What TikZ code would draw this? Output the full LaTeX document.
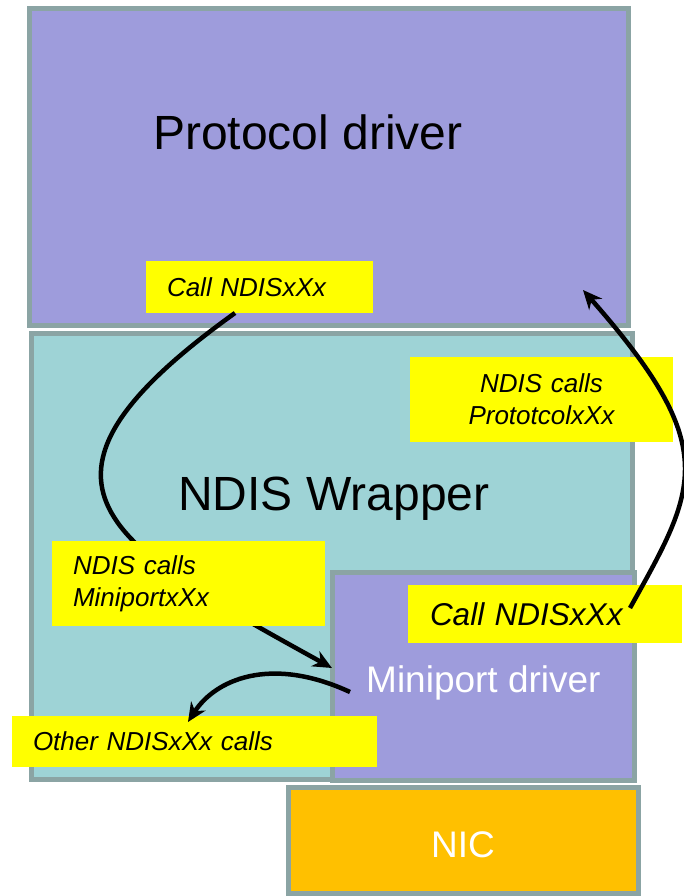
\documentclass[tikz,border=0pt]{standalone}
\usepackage{fontspec}
\setmainfont{Liberation Sans}
\usetikzlibrary{arrows.meta}
\definecolor{bordergray}{RGB}{139,164,164}
\definecolor{lav}{RGB}{158,156,220}
\definecolor{tealbox}{RGB}{158,211,214}
\definecolor{nicorange}{RGB}{255,192,0}
\definecolor{ylw}{RGB}{255,255,0}
\tikzset{
  layerbox/.style={draw=bordergray, line width=5pt, inner sep=0pt, outer sep=0pt},
  ybox/.style={fill=ylw, inner ysep=0pt, outer sep=0pt, font=\fontsize{26}{32}\selectfont\itshape},
  bigtext/.style={anchor=base west, inner sep=0pt, font=\fontsize{48}{56}\selectfont},
  whitetext/.style={inner sep=0pt, text=white, font=\fontsize{37}{44}\selectfont},
  callarrow/.style={line width=4.5pt, -{Stealth[length=19pt,width=17pt,inset=6pt]}}
}
\begin{document}
\begin{tikzpicture}[x=1pt,y=-1pt]
\useasboundingbox[fill=white] (0,0) rectangle (684,896);
% layers
\node[layerbox, fill=lav, minimum width=599pt, minimum height=317pt] (pd) at (329,167) {};
\node[layerbox, fill=tealbox, minimum width=601pt, minimum height=446pt] (wr) at (332,556.5) {};
\node[layerbox, fill=lav, minimum width=302.5pt, minimum height=208pt] (mini) at (483.25,676.5) {};
\node[layerbox, fill=nicorange, minimum width=350pt, minimum height=106pt] (nic) at (463.5,840.5) {};
% layer titles
\node[bigtext] (pdtext) at (153,150) {Protocol driver};
\node[bigtext] (wrtext) at (178,510) {NDIS Wrapper};
\node[whitetext, anchor=base west] (minitext) at (366,692) {Miniport driver};
\node[whitetext, anchor=base] (nictext) at (463,857) {NIC};
% yellow labels
\node[ybox, inner xsep=21pt, text width=185pt, align=left, minimum height=52pt] (call1) at (259.5,287) {Call NDISxXx};
\node[ybox, inner xsep=10pt, text width=243pt, align=center, minimum height=85pt] (proto) at (541.5,399.5) {NDIS calls\\PrototcolxXx};
% arrow 1
\draw[callarrow] ([xshift=-24.5pt]call1.south) .. controls (-5,485) and (110,545) .. ([yshift=8.5pt]mini.west);
\node[ybox, inner xsep=21pt, text width=231pt, align=left, minimum height=85pt] (minical) at (188.5,583.5) {NDIS calls\\MiniportxXx};
\node[ybox, inner xsep=21pt, text width=323pt, align=left, minimum height=51pt] (other) at (194.5,741.5) {Other NDISxXx calls};
\node[ybox, inner xsep=22pt, text width=230pt, align=left, minimum height=58pt, font=\fontsize{31.5}{38}\selectfont\itshape] (call2) at (545,614) {Call NDISxXx};
% arrow 2
\draw[callarrow] ([xshift=-16pt]minitext.base west) .. controls (270,655) and (215,680) .. ([xshift=-6.5pt,yshift=-6pt]other.north);
% arrow 3
\draw[callarrow] ([xshift=-52pt,yshift=6pt]call2.east) .. controls (697.5,487) and (722,448) .. ([xshift=-45.5pt,yshift=35.5pt]pd.south east);
\end{tikzpicture}
\end{document}
